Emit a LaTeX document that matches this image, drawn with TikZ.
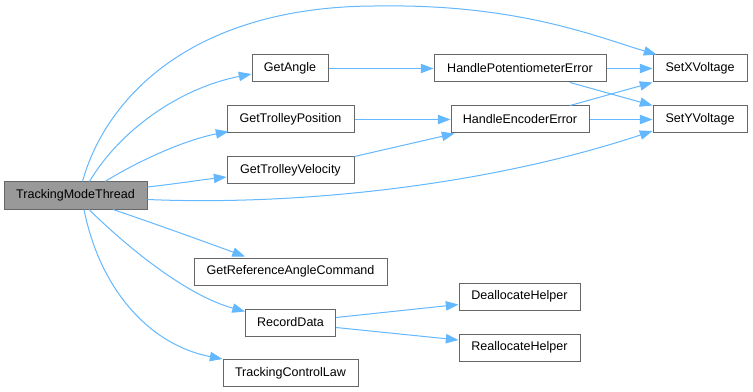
\documentclass[tikz,border=0pt]{standalone}
\usepackage{fontspec}
\setmainfont{Liberation Sans}
\usetikzlibrary{arrows.meta,calc}

\definecolor{edgeblue}{HTML}{63B8FF}
\definecolor{boxline}{HTML}{666666}
\definecolor{rootfill}{HTML}{999999}

\tikzset{
  fn/.style={draw=boxline, line width=0.75pt, fill=white, rectangle,
    inner sep=0pt, minimum height=20.25pt, align=center,
    font=\fontsize{9.4}{11}\selectfont},
  root/.style={fn, fill=rootfill},
  edge/.style={draw=edgeblue, line width=0.75pt,
    -{Triangle[length=9.5pt,width=7pt]}},
}

\begin{document}
\begin{tikzpicture}[x=0.75pt,y=-0.75pt]
\useasboundingbox[fill=white] (0,0) rectangle (753,392);

% functions, one column per call depth
\node[root, minimum width=107.25pt] (tmt)  at (75.5,195.5) {TrackingModeThread};

\node[fn, minimum width=57pt]     (ang)  at (290,68.5)   {GetAngle};
\node[fn, minimum width=95.25pt]  (gtp)  at (290.5,119.5) {GetTrolleyPosition};
\node[fn, minimum width=95.25pt]  (gtv)  at (290.5,170.5) {GetTrolleyVelocity};
\node[fn, minimum width=144.75pt] (grac) at (290.5,271.5) {GetReferenceAngleCommand};
\node[fn, minimum width=67.5pt]   (rec)  at (290.5,322.5) {RecordData};
\node[fn, minimum width=101.25pt] (tcl)  at (290.5,373)   {TrackingControlLaw};

\node[fn, minimum width=129pt]    (hpe)  at (520,68.5)   {HandlePotentiometerError};
\node[fn, minimum width=103.5pt]  (hee)  at (520,119.5)  {HandleEncoderError};
\node[fn, minimum width=90.75pt]  (dea)  at (519.5,296.5) {DeallocateHelper};
\node[fn, minimum width=90.75pt]  (rea)  at (519.5,347.5) {ReallocateHelper};

\node[fn, minimum width=70.5pt]   (setx) at (700,68.5)   {SetXVoltage};
\node[fn, minimum width=70.5pt]   (sety) at (700,119.5)  {SetYVoltage};

% calls made by TrackingModeThread
\draw[edge] ($(tmt.north)+(7,0)$) .. controls (105,100) and (190,5) .. (380,6)
            .. controls (520,4) and (600,38) .. ($(setx.north west)+(4,0)$);
\draw[edge] ($(tmt.north)+(14,0)$) .. controls (120,130) and (180,88) .. ($(ang.west)+(0,5.5)$);
\draw[edge] ($(tmt.north)+(29.5,0)$) .. controls (140,160) and (185,140) .. ($(gtp.south west)+(2,-2)$);
\draw[edge] ($(tmt.east)+(0,-8.5)$) .. controls (175,184) and (200,180) .. ($(gtv.west)+(0,6.5)$);
\draw[edge] ($(tmt.east)+(0,4)$) .. controls (300,206) and (490,185) .. ($(sety.west)+(0,11.5)$);
\draw[edge] ($(tmt.south)+(37.5,0)$) .. controls (150,222) and (200,240) .. ($(grac.north)+(-45.5,-1)$);
\draw[edge] ($(tmt.south)+(13.5,0)$) .. controls (125,245) and (185,295) .. ($(rec.north west)+(0,3)$);
\draw[edge] ($(tmt.south)+(8.5,0)$) .. controls (100,290) and (150,345) .. (tcl.north west);

% second level calls
\draw[edge] (ang.east) -- (hpe.west);
\draw[edge] (gtp.east) -- (hee.west);
\draw[edge] (gtv.north east) -- ($(hee.south west)+(4,0)$);
\draw[edge] ($(rec.east)+(0,-5)$) -- ($(dea.west)+(0,8)$);
\draw[edge] ($(rec.east)+(0,5)$) -- ($(rea.west)+(0,-7.5)$);

% third level calls
\draw[edge] (hpe.east) -- (setx.west);
\draw[edge] ($(hpe.south)+(50,0)$) -- (sety.north west);
\draw[edge] ($(hee.north)+(50,0)$) -- (setx.south west);
\draw[edge] (hee.east) -- (sety.west);
\end{tikzpicture}
\end{document}
